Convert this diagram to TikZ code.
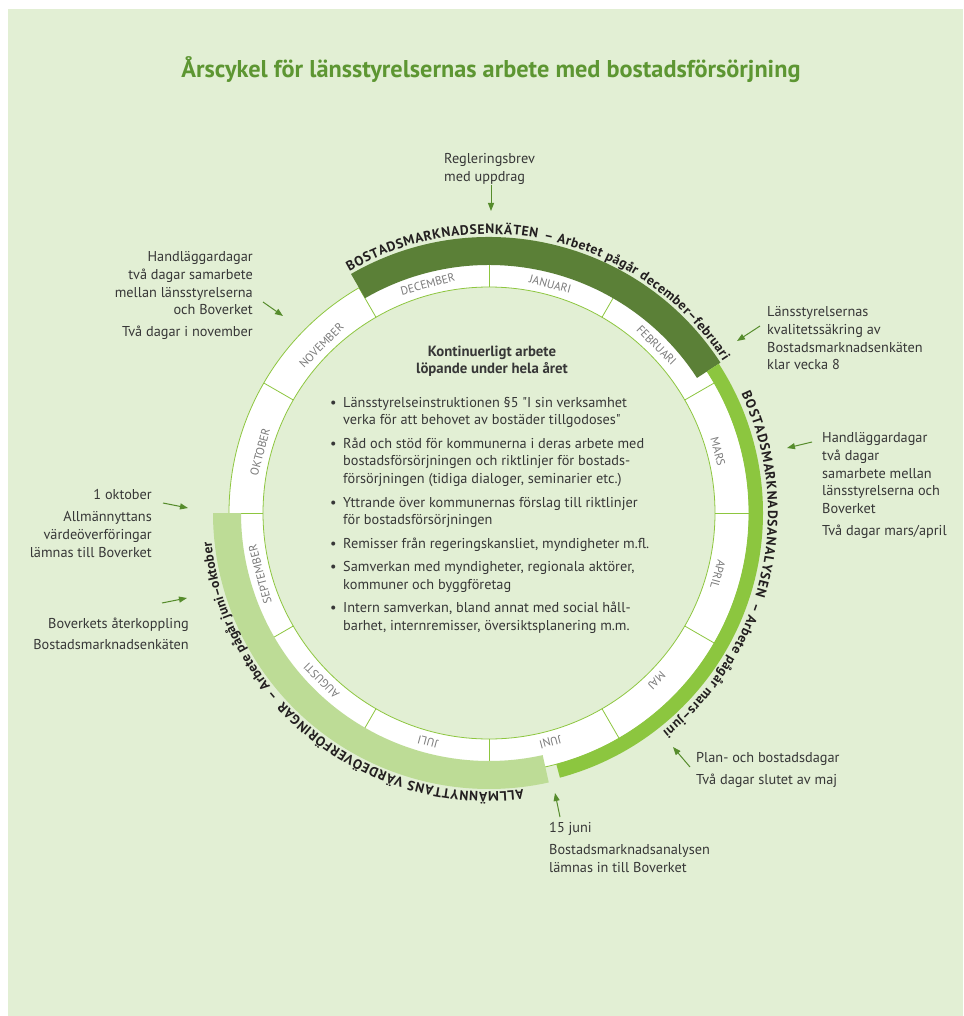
\documentclass[tikz,border=0pt]{standalone}
\usepackage{fontspec}
\setmainfont{PT Sans}
\newfontfamily\quotefont{PT Sans}
\usetikzlibrary{arrows.meta,decorations.text}
\definecolor{panelgreen}{RGB}{226,239,212}
\definecolor{darkband}{RGB}{91,128,55}
\definecolor{midband}{RGB}{140,198,63}
\definecolor{lightband}{RGB}{189,220,150}
\definecolor{ringline}{RGB}{141,198,63}
\definecolor{titlegreen}{RGB}{93,150,50}
\definecolor{arrowgreen}{RGB}{86,140,44}
\definecolor{notegray}{RGB}{55,55,55}
\definecolor{bandtext}{RGB}{35,31,32}
\definecolor{monthgray}{RGB}{122,122,122}
\newcommand\bandfont{\fontsize{13.6}{13.6}\selectfont\bfseries}
\newcommand\dq{{\quotefont"}}
\begin{document}
\begin{tikzpicture}[x=1pt, y=-1pt,
    note/.style = {inner sep=0, text=notegray, font=\fontsize{14.3}{17.7}\selectfont},
    month/.style = {inner sep=0, text=monthgray, font=\fontsize{11.6}{11.6}\selectfont},
    band/.style = {decorate, decoration={text along path, text align=fit to path, text color=bandtext, text={|\bandfont|#1}}},
    pointer/.style = {draw=arrowgreen, line width=1pt, -{Triangle[length=8pt, width=6pt, fill=arrowgreen]}}]
\useasboundingbox (0,0) rectangle (963,1016);
\fill[white] (0,0) rectangle (963,1016);
\fill[panelgreen] (8,9) rectangle (963,1016);

\node[anchor=base, inner sep=0, text=titlegreen, font=\fontsize{24.3}{24.3}\selectfont\bfseries] (title) at (491,78) {Årscykel för länsstyrelsernas arbete med bostadsförsörjning};

\begin{scope}[shift={(489,513)}, y=1pt]
  \fill[white, even odd rule] (0,0) circle[radius=260] (0,0) circle[radius=226];
  \draw[ringline, line width=0.8pt] (0,0) circle[radius=260] (0,0) circle[radius=226];
  \foreach \a in {0,30,...,330}
    \draw[ringline, line width=0.8pt] (\a:226) -- (\a:260);
  \fill[darkband] (120:248) arc[start angle=120, end angle=33, radius=248] -- (33:276) arc[start angle=33, end angle=120, radius=276] -- cycle;
  \fill[midband] (33:260) arc[start angle=33, end angle=-75, radius=260] -- (-75:274) arc[start angle=-75, end angle=33, radius=274] -- cycle;
  \fill[lightband] (180:248) arc[start angle=180, end angle=282.5, radius=248] -- (282.5:276) arc[start angle=282.5, end angle=180, radius=276] -- cycle;
  \foreach \m [count=\i] in {JANUARI,FEBRUARI,MARS,APRIL,MAJ,JUNI,JULI,AUGUSTI,SEPTEMBER,OKTOBER,NOVEMBER,DECEMBER}
    \node[month, rotate={-15-30*(\i-1)}] (m\i) at ({75-30*(\i-1)}:237) {\m};
  \path[band={BOSTADSMARKNADSENKÄTEN}] (120:279) arc[start angle=120, end angle=80, radius=279];
  \path[band={– Arbetet pågår december–februari}] (78.7:279) arc[start angle=78.7, end angle=33, radius=279];
  \path[band={BOSTADSMARKNADSANALYSEN}] (25.3:279) arc[start angle=25.3, end angle=-17.3, radius=279];
  \path[band={– Arbete pågår mars–juni}] (-18.6:279) arc[start angle=-18.6, end angle=-51.5, radius=279];
  \path[band={ALLMÄNNYTTANS VÄRDEÖVERFÖRINGAR}] (277:279) arc[start angle=277, end angle=222.5, radius=279];
  \path[band={– Arbete pågår juni–oktober}] (221:279) arc[start angle=221, end angle=186, radius=279];
\end{scope}

\node[anchor=north, align=center, inner sep=0, text=notegray, font=\fontsize{14.8}{17.7}\selectfont\bfseries] (kont) at (492,345.5) {Kontinuerligt arbete\\löpande under hela året};
\node[note, anchor=north west] (list) at (330,394.6) {%
  \begin{tabular}{@{}p{13pt}@{}l@{}}
  \textbullet & Länsstyrelseinstruktionen §5 \dq I sin verksamhet\\
  & verka för att behovet av bostäder tillgodoses\dq\\[5.7pt]
  \textbullet & Råd och stöd för kommunerna i deras arbete med\\
  & bostadsförsörjningen och riktlinjer för bostads-\\
  & försörjningen (tidiga dialoger, seminarier etc.)\\[5.7pt]
  \textbullet & Yttrande över kommunernas förslag till riktlinjer\\
  & för bostadsförsörjningen\\[5.7pt]
  \textbullet & Remisser från regeringskansliet, myndigheter m.fl.\\[5.7pt]
  \textbullet & Samverkan med myndigheter, regionala aktörer,\\
  & kommuner och byggföretag\\[5.7pt]
  \textbullet & Intern samverkan, bland annat med social håll-\\
  & barhet, internremisser, översiktsplanering m.m.
  \end{tabular}};

\node[note, anchor=north west, align=left] (regl) at (444,153.5) {Regleringsbrev\\med uppdrag};
\node[note, anchor=north west, align=left] (kval) at (767,306.5) {Länsstyrelsernas\\kvalitetssäkring av\\Bostadsmarknadsenkäten\\klar vecka 8};
\node[note, anchor=north west, align=left] (handmars) at (822,432.5) {Handläggardagar\\två dagar\\samarbete mellan\\länsstyrelserna och\\Boverket\\[4.4pt]Två dagar mars/april};
\node[note, anchor=north west, align=left] (plan) at (696,752.5) {Plan- och bostadsdagar\\[4.4pt]Två dagar slutet av maj};
\node[note, anchor=north west, align=left] (juni) at (549,822.5) {15 juni\\[4.4pt]Bostadsmarknadsanalysen\\lämnas in till Boverket};
\node[note, anchor=north east, align=right] (handnov) at (253,251.5) {Handläggardagar\\två dagar samarbete\\mellan länsstyrelserna\\och Boverket\\[4.4pt]Två dagar i november};
\node[note, anchor=north east, align=right] (okt) at (152,489.5) {1 oktober\\[4.4pt]Allmännyttans\\värdeöverföringar\\lämnas till Boverket};
\node[note, anchor=north east, align=right] (aterk) at (189,617.5) {Boverkets återkoppling\\[3.6pt]Bostadsmarknadsenkäten};

\coordinate (regl-s) at (491,185);  \coordinate (regl-t) at (491,211);
\coordinate (kval-s) at (760,326);  \coordinate (kval-t) at (737,341);
\coordinate (hm-s) at (812,442);    \coordinate (hm-t) at (787,448);
\coordinate (plan-s) at (690,767);  \coordinate (plan-t) at (673,747);
\coordinate (juni-s) at (560,817);  \coordinate (juni-t) at (555,793);
\coordinate (hn-s) at (263,302);    \coordinate (hn-t) at (283,316);
\coordinate (okt-s) at (163,503);   \coordinate (okt-t) at (188,508);
\coordinate (aterk-s) at (162,603); \coordinate (aterk-t) at (187,598);
\draw[pointer] (regl-s) -- (regl-t);
\draw[pointer] (kval-s) -- (kval-t);
\draw[pointer] (hm-s) -- (hm-t);
\draw[pointer] (plan-s) -- (plan-t);
\draw[pointer] (juni-s) -- (juni-t);
\draw[pointer] (hn-s) -- (hn-t);
\draw[pointer] (okt-s) -- (okt-t);
\draw[pointer] (aterk-s) -- (aterk-t);
\end{tikzpicture}
\end{document}
